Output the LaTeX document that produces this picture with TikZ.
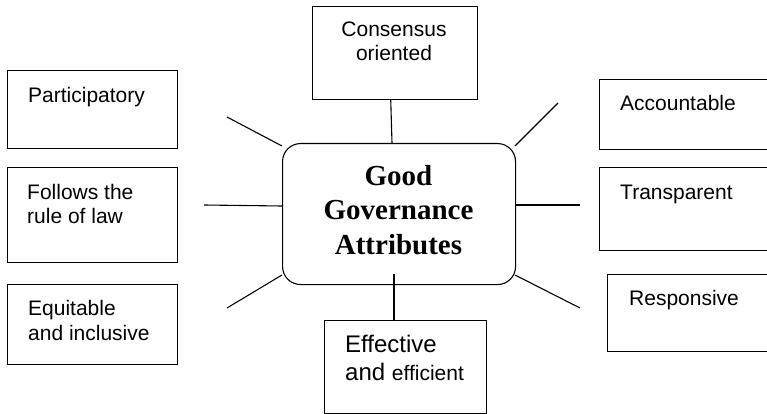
\documentclass[tikz,border=0pt]{standalone}
\usepackage{fontspec}
\setmainfont{Liberation Serif}
\newfontfamily\arialfont{Liberation Sans}
\begin{document}
\begin{tikzpicture}[x=1pt,y=-1pt,
  attrbox/.style={draw=black, line width=1.1pt, rectangle, inner sep=0pt, anchor=north west},
  hubbox/.style={draw=black, line width=1.1pt, rectangle, rounded corners=18pt, inner sep=0pt, anchor=north west},
  lbl/.style={inner sep=0pt, anchor=base west, font=\arialfont\fontsize{21}{24}\selectfont},
  lblc/.style={inner sep=0pt, anchor=base, font=\arialfont\fontsize{21}{24}\selectfont},
  hublbl/.style={inner sep=0pt, anchor=base, font=\bfseries\fontsize{29}{34}\selectfont},
  spoke/.style={draw=black, line width=1.1pt}]
\useasboundingbox (0,0) rectangle (767,414);

% central hub
\node[hubbox, minimum width=233pt, minimum height=141pt] (hub) at (282,143) {};
\node[hublbl] (hubA) at (398.5,185) {Good};
\node[hublbl] (hubB) at (398.5,219.3) {Governance};
\node[hublbl] (hubC) at (398.5,254) {Attributes};

% attribute boxes
\node[attrbox, minimum width=165pt, minimum height=93pt] (cons) at (312,6) {};
\node[attrbox, minimum width=170pt, minimum height=78pt] (part) at (7,70) {};
\node[attrbox, minimum width=170pt, minimum height=95pt] (rule) at (7,167) {};
\node[attrbox, minimum width=170pt, minimum height=80pt] (equi) at (7,284) {};
\node[attrbox, minimum width=180pt, minimum height=70pt] (acco) at (599,79) {};
\node[attrbox, minimum width=180pt, minimum height=83pt] (tran) at (599,167) {};
\node[attrbox, minimum width=170pt, minimum height=77pt] (resp) at (607,274) {};
\node[attrbox, minimum width=162pt, minimum height=93pt] (effe) at (324,320) {};

% box texts
\node[lblc] (consA) at (394,37) {Consensus};
\node[lblc] (consB) at (394,61) {oriented};
\node[lbl] (partA) at (28,102.7) {Participatory};
\node[lbl] (ruleA) at (27,199.3) {Follows the};
\node[lbl] (ruleB) at (27,223.3) {rule of law};
\node[lbl] (equiA) at (28,315) {Equitable};
\node[lbl] (equiB) at (28,340.7) {and inclusive};
\node[lbl] (accoA) at (620,110.7) {Accountable};
\node[lbl] (tranA) at (620,199.3) {Transparent};
\node[lbl] (respA) at (629,305.7) {Responsive};
\node[lbl, font=\arialfont\fontsize{24}{28}\selectfont] (effeA) at (345,352.7) {Effective};
\node[lbl, font=\arialfont\fontsize{24}{28}\selectfont] (effeB) at (345,380) {and {\fontsize{21}{24}\selectfont efficient}};

% spoke end points
\coordinate (sCons) at (392,143);
\coordinate (tCons) at (390.7,99);
\coordinate (sPart) at (282,146);
\coordinate (tPart) at (227,117);
\coordinate (sRule) at (282,206);
\coordinate (tRule) at (204,205);
\coordinate (sEqui) at (282,275);
\coordinate (tEqui) at (227,308);
\coordinate (sAcco) at (515,146);
\coordinate (tAcco) at (558,103);
\coordinate (sTran) at (515,205);
\coordinate (tTran) at (580,205);
\coordinate (sResp) at (515,275);
\coordinate (tResp) at (580,308);
\coordinate (sEffe) at (394,274);
\coordinate (tEffe) at (394,320);

% spokes
\draw[spoke] (sCons) -- (tCons);
\draw[spoke] (sPart) -- (tPart);
\draw[spoke] (sRule) -- (tRule);
\draw[spoke] (sEqui) -- (tEqui);
\draw[spoke] (sAcco) -- (tAcco);
\draw[spoke] (sTran) -- (tTran);
\draw[spoke] (sResp) -- (tResp);
\draw[spoke] (sEffe) -- (tEffe);
\end{tikzpicture}
\end{document}
